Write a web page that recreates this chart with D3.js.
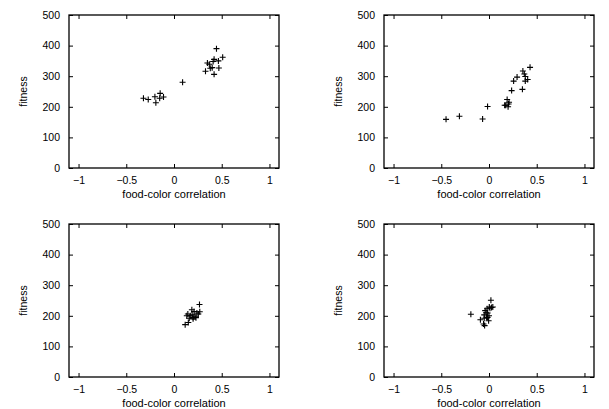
<!DOCTYPE html>
<html><head><meta charset="utf-8">
<script src="https://cdn.jsdelivr.net/npm/d3@7"></script>
<style>body{margin:0;background:#fff}svg{display:block}text{font-family:"Liberation Sans",Arial,sans-serif;fill:#000}</style>
</head><body><svg id="c" width="609" height="409"></svg>
<script>
const xTicks = [-1, -0.5, 0, 0.5, 1];
const yTicks = [0, 100, 200, 300, 400, 500];
const xLabel = "food-color correlation";
const yLabel = "fitness";

const p1x = [-0.32,-0.27,-0.20,-0.19,-0.145,-0.15,-0.11,0.09,0.445,0.51,0.42,0.465,0.41,0.35,0.37,0.40,0.38,0.47,0.33,0.42];
const p1y = [228,224,233,213,244,228,232,280,390,362,355,350,348,343,339,328,326,327,316,306];

const p2x = [-0.45,-0.31,-0.067,-0.015,0.164,0.19,0.205,0.21,0.20,0.237,0.258,0.294,0.35,0.355,0.37,0.38,0.38,0.405,0.43,0.175];
const p2y = [159,169,160,201,205,224,209,215,200,253,284,297,257,317,307,299,284,289,329,205];

const p3x = [0.117,0.15,0.145,0.17,0.20,0.22,0.187,0.24,0.27,0.267,0.23,0.134,0.20,0.255,0.21,0.19,0.16];
const p3y = [171,178,206,200,190,197,220,209,213,237,194,200,195,206,214,203,192];

const p4x = [-0.19,-0.09,-0.057,-0.046,0.02,-0.02,0.003,-0.04,-0.015,-0.05,-0.004,-0.03,0.027,-0.05,0.04,0.0,-0.025,0.01,-0.014];
const p4y = [205,187,173,168,251,223,229,217,195,192,184,210,227,203,229,200,195,225,209];

const panels = [
  {xs:p1x, ys:p1y, left:69, top:15},
  {xs:p2x, ys:p2y, left:384, top:15},
  {xs:p3x, ys:p3y, left:69, top:224},
  {xs:p4x, ys:p4y, left:384, top:224}
];
const W = 210, H = 153;
const svg = d3.select("#c");

panels.forEach(p => {
  const g = svg.append("g").attr("transform", `translate(${p.left},${p.top})`);
  const x = d3.scaleLinear().domain([-1.1, 1.1]).range([0, W]);
  const y = d3.scaleLinear().domain([0, 500]).range([H, 0]);

  const fmt = d => d3.format("")(d);
  const axB = g.append("g").attr("transform", `translate(0,${H})`)
    .call(d3.axisBottom(x).tickValues(xTicks).tickSize(-4).tickPadding(9).tickFormat(fmt));
  const axT = g.append("g")
    .call(d3.axisTop(x).tickValues(xTicks).tickSize(-4).tickFormat(""));
  const axL = g.append("g")
    .call(d3.axisLeft(y).tickValues(yTicks).tickSize(-4).tickPadding(9));
  const axR = g.append("g").attr("transform", `translate(${W},0)`)
    .call(d3.axisRight(y).tickValues(yTicks).tickSize(-4).tickFormat(""));
  [axB, axT, axL, axR].forEach(a => {
    a.select(".domain").remove();
    a.selectAll("line").attr("stroke", "#000").attr("stroke-width", 1);
    a.selectAll("text").style("font-size", "10.5px").attr("fill", "#000")
      .style("font-family", '"Liberation Sans",Arial,sans-serif');
  });
  g.append("rect").attr("x", 0).attr("y", 0).attr("width", W).attr("height", H)
    .attr("fill", "none").attr("stroke", "#000").attr("stroke-width", 1.3);

  g.append("text").attr("x", W / 2).attr("y", H + 30).attr("text-anchor", "middle")
    .style("font-size", "11px").text(xLabel);
  g.append("text").attr("transform", `translate(-42,${H / 2}) rotate(-90)`)
    .attr("text-anchor", "middle").style("font-size", "10.5px").text(yLabel);

  const pts = p.xs.map((v, i) => [v, p.ys[i]]);
  const s = 3;
  g.append("g").selectAll("path").data(pts).join("path")
    .attr("d", d => `M${x(d[0]) - s},${y(d[1])}H${x(d[0]) + s}M${x(d[0])},${y(d[1]) - s}V${y(d[1]) + s}`)
    .attr("stroke", "#000").attr("stroke-width", 1.1).attr("fill", "none");
});
</script></body></html>
